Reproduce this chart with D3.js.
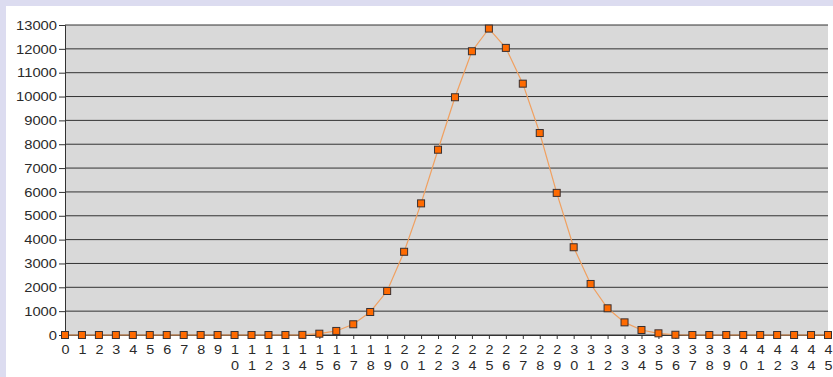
<!DOCTYPE html>
<html>
<head>
<meta charset="utf-8">
<script src="https://cdn.jsdelivr.net/npm/d3@7"></script>
<style>
  html, body { margin: 0; padding: 0; background: #dcdcf0; }
  svg { display: block; }
  text { font-family: "Liberation Sans", Arial, sans-serif; font-size: 12px; fill: #2a2a2a; }
</style>
</head>
<body>
<svg id="chart" width="833" height="377"></svg>
<script>
// Categories 0..45 along the x axis
const categories = d3.range(0, 46).map(String);

// Frequency for each category
const counts = [
  0, 0, 0, 0, 0, 0, 0, 0, 0, 0,
  0, 0, 0, 0, 5, 55, 170, 450, 965, 1845,
  3490, 5520, 7770, 9970, 11900, 12850, 12040, 10540, 8470, 5960,
  3680, 2140, 1120, 530, 210, 70, 10, 0, 0, 0,
  0, 0, 0, 0, 0, 0
];

// Y axis tick values
const yTicks = d3.range(0, 13001, 1000);

const svg = d3.select("#chart");
const W = 833, H = 377;
const plot = { left: 65, right: 828, top: 25, bottom: 335 };

// page frame
svg.append("rect").attr("x", 0).attr("y", 0).attr("width", W).attr("height", H).attr("fill", "#dcdcf0");
svg.append("rect").attr("x", 6).attr("y", 6).attr("width", W - 6).attr("height", H - 6).attr("fill", "#ffffff");

const x = d3.scalePoint().domain(categories).range([plot.left, plot.right]).padding(0);
const y = d3.scaleLinear().domain([0, 13000]).range([plot.bottom, plot.top]);

// plot background
svg.append("rect")
  .attr("x", plot.left).attr("y", plot.top)
  .attr("width", plot.right - plot.left).attr("height", plot.bottom - plot.top)
  .attr("fill", "#d9d9d9");

// horizontal grid lines
svg.append("g")
  .selectAll("line")
  .data(yTicks)
  .join("line")
  .attr("x1", plot.left).attr("x2", plot.right)
  .attr("y1", d => y(d)).attr("y2", d => y(d))
  .attr("stroke", "#333").attr("stroke-width", 1);

// y axis
const yAxis = svg.append("g")
  .attr("transform", `translate(${plot.left},0)`)
  .call(d3.axisLeft(y).tickValues(yTicks).tickFormat(d3.format("d")).tickSize(6).tickPadding(0));
yAxis.select(".domain").attr("stroke", "#333");
yAxis.selectAll(".tick line").attr("stroke", "#333");
yAxis.selectAll(".tick text")
  .attr("x", null).attr("dy", "0.35em")
  .attr("transform", "translate(-8,0) scale(1.23,1)")
  .attr("fill", "#2a2a2a").style("font-size", "12px")
  .style("font-family", "'Liberation Sans', Arial, sans-serif");

// x axis with digits stacked vertically
const xAxis = svg.append("g")
  .attr("transform", `translate(0,${plot.bottom})`)
  .call(d3.axisBottom(x).tickSize(4).tickSizeOuter(0));
xAxis.select(".domain").attr("stroke", "#333");
xAxis.selectAll(".tick line").attr("stroke", "#333");
xAxis.selectAll(".tick text").each(function(d) {
  const t = d3.select(this);
  t.text(null).attr("y", null).attr("dy", null)
    .attr("transform", "scale(1.2,1)")
    .attr("fill", "#2a2a2a").style("font-size", "12px")
    .style("font-family", "'Liberation Sans', Arial, sans-serif");
  d.split("").forEach((ch, i) => {
    t.append("tspan").attr("x", 0).attr("y", 19.5 + i * 15.5).text(ch);
  });
});

// series line
svg.append("path")
  .datum(counts)
  .attr("fill", "none")
  .attr("stroke", "#f0a060")
  .attr("stroke-width", 1.2)
  .attr("d", d3.line().x((d, i) => x(categories[i])).y(d => y(d)));

// square markers
const m = 7;
svg.append("g")
  .selectAll("rect")
  .data(counts)
  .join("rect")
  .attr("x", (d, i) => x(categories[i]) - m / 2)
  .attr("y", d => y(d) - m / 2)
  .attr("width", m).attr("height", m)
  .attr("fill", "#ff6a00")
  .attr("stroke", "#3a3030").attr("stroke-width", 1);
</script>
</body>
</html>
